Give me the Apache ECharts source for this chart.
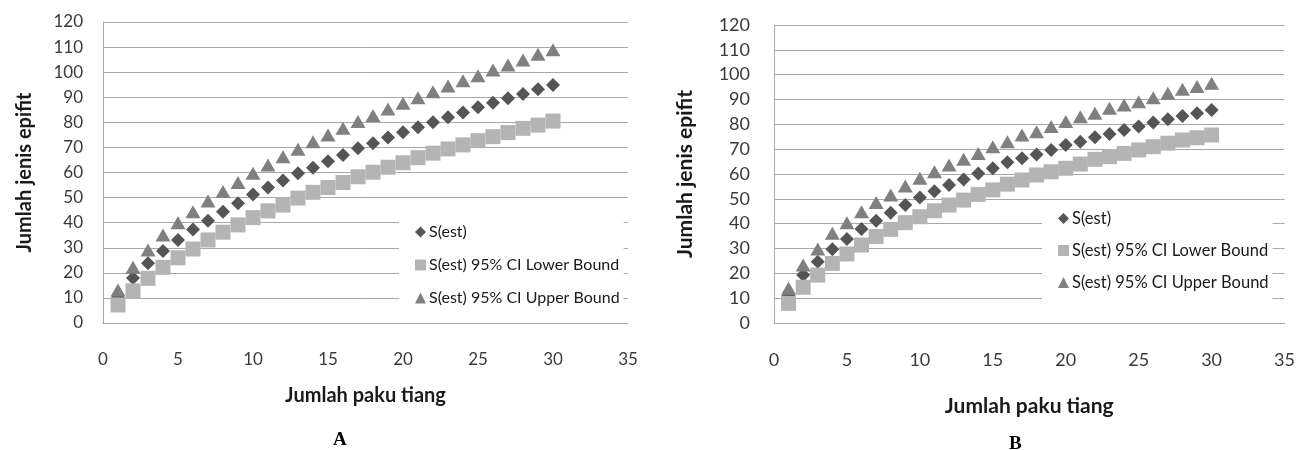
<!DOCTYPE html>
<html>
<head>
<meta charset="utf-8">
<script src="https://cdn.jsdelivr.net/npm/echarts@6/dist/echarts.min.js"></script>
<style>
html,body{margin:0;padding:0;background:#fff;}
#chart{width:1298px;height:450px;}
</style>
</head>
<body>
<div id="chart"></div>
<script>
const samples = [1,2,3,4,5,6,7,8,9,10,11,12,13,14,15,16,17,18,19,20,21,22,23,24,25,26,27,28,29,30];
const seriesNames = ['S(est)', 'S(est) 95% CI Lower Bound', 'S(est) 95% CI Upper Bound'];
const xTicks = [0,5,10,15,20,25,30,35];
const yTicks = [0,10,20,30,40,50,60,70,80,90,100,110,120];

const sestA  = [10.2,17.9,23.8,28.7,33.1,37.3,40.8,44.4,47.7,51.2,54.0,56.8,59.7,61.9,64.5,67.0,69.7,71.7,74.0,76.0,78.0,80.0,82.0,83.9,86.0,87.8,89.6,91.3,93.2,94.9];
const lowerA = [7.2,12.8,17.8,22.2,26.0,29.5,33.1,36.2,39.1,42.0,44.7,47.0,49.8,52.1,54.0,56.0,58.3,60.1,62.1,63.9,65.9,67.7,69.4,71.0,72.7,74.3,75.9,77.6,78.9,80.5];
const upperA = [13.2,22.2,29.1,35.1,40.0,44.4,48.6,52.4,56.0,59.7,63.0,66.3,69.3,72.3,75.0,77.6,80.3,82.7,85.3,87.6,89.8,92.2,94.5,96.6,98.6,100.9,102.9,104.9,107.1,108.9];

const sestB  = [11.0,19.3,24.7,29.7,33.8,37.9,41.2,44.4,47.5,50.5,53.1,55.6,57.8,60.2,62.3,64.7,66.3,67.9,69.7,71.7,73.0,74.8,76.1,77.7,79.1,80.7,82.0,83.4,84.5,85.8];
const lowerB = [7.9,14.4,19.3,24.0,27.8,31.4,34.8,37.7,40.4,42.8,45.2,47.5,49.5,51.8,53.6,55.9,57.6,59.6,60.9,62.3,64.0,65.9,67.0,68.3,69.7,71.0,72.4,73.7,74.6,75.7];
const upperB = [14.0,23.4,29.8,36.1,40.4,44.8,48.5,51.5,55.2,58.3,60.9,63.6,65.9,68.3,71.0,73.0,75.7,77.0,79.1,81.1,83.1,84.5,86.5,87.8,89.1,90.7,92.5,94.1,95.2,96.5];

const xTitle = 'Jumlah paku tiang';
const yTitle = 'Jumlah jenis epifit';
const panelLabels = ['A', 'B'];

const FONT = 'Lato';
const colors = ['#555555', '#b4b4b4', '#808080'];
const symbols = ['diamond', 'rect', 'triangle'];
const sizes = [[14,14],[15,15],[15,13]];
const gridColor = '#a8a8a8';

function pts(ys){ return samples.map((x,i)=>[x, ys[i]]); }

function xAxis(gi, fs, nfs, gap){
  return {
    type:'value', gridIndex:gi, min:xTicks[0], max:xTicks[xTicks.length-1], interval:5,
    name:xTitle, nameLocation:'middle', nameGap:gap,
    nameTextStyle:{fontFamily:FONT, fontWeight:'bold', fontSize:nfs, color:'#1a1a1a'},
    axisLine:{show:true, onZero:false, lineStyle:{color:gridColor, width:1}},
    axisTick:{show:false},
    splitLine:{show:false},
    axisLabel:{fontFamily:FONT, fontSize:fs, color:'#3a3a3a', margin:28}
  };
}
function yAxis(gi, fs, nfs, gap, margin){
  return {
    type:'value', gridIndex:gi, min:yTicks[0], max:yTicks[yTicks.length-1], interval:10,
    name:yTitle, nameLocation:'middle', nameGap:gap, nameRotate:90,
    nameTextStyle:{fontFamily:FONT, fontWeight:'bold', fontSize:nfs, color:'#1a1a1a'},
    axisLine:{show:true, lineStyle:{color:gridColor, width:1}},
    axisTick:{show:false},
    splitLine:{show:true, lineStyle:{color:gridColor, width:1}},
    axisLabel:{fontFamily:FONT, fontSize:fs, color:'#3a3a3a', margin:margin}
  };
}
function mk(gi, data){
  return data.map((ys,k)=>({
    type:'scatter', name:seriesNames[k], xAxisIndex:gi, yAxisIndex:gi,
    symbol:symbols[k], symbolSize:sizes[k],
    itemStyle:{color:colors[k], opacity:1},
    data:pts(ys), z:2+k, animation:false
  }));
}
function legend(left, top, padding, fs, gap){
  return {
    orient:'vertical', left:left, top:top, padding:padding,
    backgroundColor:'#ffffff', itemGap:gap, itemWidth:11, itemHeight:11,
    selectedMode:false,
    data:seriesNames.map((n,k)=>({name:n, icon:symbols[k]})),
    textStyle:{fontFamily:FONT, fontSize:fs, color:'#1a1a1a', padding:[0,0,0,-2]}
  };
}

const chart = echarts.init(document.getElementById('chart'), null, {renderer:'canvas'});
chart.setOption({
  animation:false,
  backgroundColor:'#ffffff',
  grid:[
    {left:103, top:22, width:525, height:301},
    {left:774, top:25, width:514, height:298}
  ],
  xAxis:[xAxis(0,17,20,63), xAxis(1,18,21,73)],
  yAxis:[yAxis(0,17,20,68,20), yAxis(1,18,21,78,24)],
  legend:[legend(399, 206, [18,4,14,16], 16, 17), legend(1042, 203, [7,4,24,16], 16.5, 15)],
  title:[
    {text:panelLabels[0], left:328, top:426, textStyle:{fontFamily:'Liberation Serif', fontWeight:'bold', fontSize:19, color:'#000'}},
    {text:panelLabels[1], left:1004, top:430, textStyle:{fontFamily:'Liberation Serif', fontWeight:'bold', fontSize:19, color:'#000'}}
  ],
  series:[].concat(mk(0,[sestA,lowerA,upperA]), mk(1,[sestB,lowerB,upperB]))
});
</script>
</body>
</html>
